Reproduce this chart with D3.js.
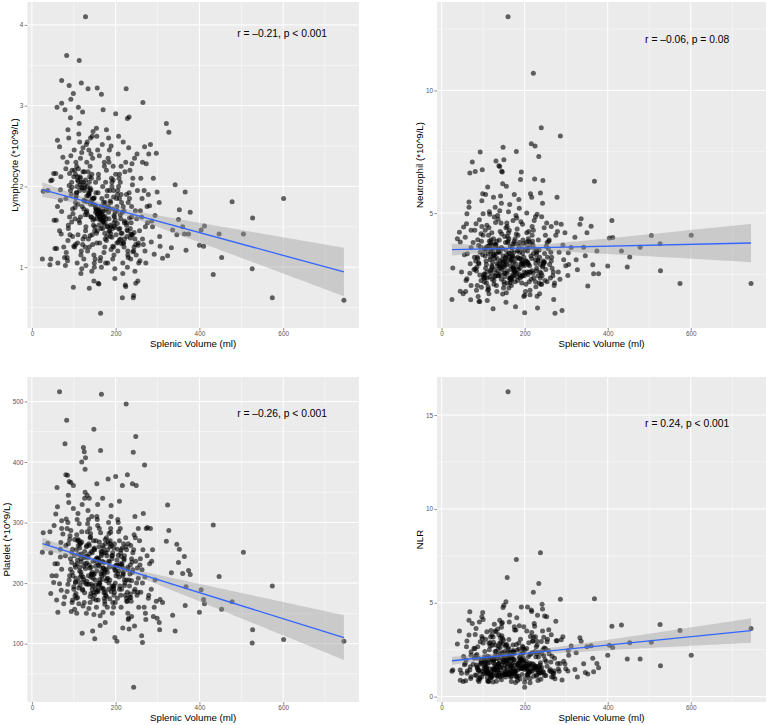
<!DOCTYPE html>
<html>
<head>
<meta charset="utf-8">
<script src="https://cdn.jsdelivr.net/npm/d3@7"></script>
<style>
  body { margin: 0; background: #fff; }
  text { font-family: "Liberation Sans", Arial, Helvetica, sans-serif; }
</style>
</head>
<body>
<svg id="chart" width="768" height="725"></svg>
<script>
// Splenic volume (ml), one entry per patient, shared by all four panels
const volume = [
  27, 25, 43, 45, 45, 52, 53, 55, 48, 38,
  61, 60, 71, 71, 79, 66, 74, 57, 69, 68,
  68, 61, 71, 58, 66, 70, 59, 76, 62, 78,
  83, 89, 99, 93, 86, 101, 81, 95, 90, 104,
  84, 97, 92, 100, 87, 103, 82, 96, 91, 99,
  85, 94, 88, 102, 80, 98, 93, 86, 104, 90,
  96, 81, 100, 87, 92, 84, 103, 89, 97, 95,
  113, 118, 111, 121, 128, 107, 125, 116, 109, 123,
  106, 119, 127, 112, 124, 108, 115, 129, 120, 110,
  117, 105, 126, 114, 122, 130, 108, 119, 112, 125,
  110, 124, 116, 106, 128, 113, 121, 109, 127, 118,
  122, 114, 107, 129, 111, 120, 126, 115, 105, 117,
  134, 148, 140, 152, 131, 145, 137, 150, 143, 155,
  138, 133, 154, 141, 147, 136, 151, 132, 144, 139,
  146, 142, 135, 153, 130, 149, 140, 144, 137, 152,
  131, 150, 139, 143, 155, 134, 147, 136, 141, 148,
  153, 137, 145, 132, 149, 142, 138, 154, 133, 146,
  160, 164, 156, 166, 170, 161, 158, 175, 168, 178,
  163, 172, 157, 176, 165, 180, 159, 169, 174, 162,
  167, 155, 179, 171, 160, 173, 164, 177, 158, 170,
  176, 162, 168, 157, 174, 166, 179, 161, 172, 165,
  159, 171, 163, 178, 156, 169, 175, 167, 180, 173,
  182, 192, 200, 186, 198, 190, 184, 195, 203, 188,
  196, 183, 205, 191, 187, 199, 194, 181, 202, 189,
  185, 197, 193, 204, 182, 200, 188, 195, 191, 199,
  201, 189, 186, 196, 203, 184, 192, 198, 187, 194,
  225, 216, 221, 224, 228, 232, 208, 214, 219, 211,
  223, 206, 229, 213, 217, 226, 210, 220, 207, 227,
  212, 218, 230, 209, 222, 215, 205, 228, 218, 224,
  220, 211, 226, 207, 216, 229, 213, 221, 209, 217,
  240, 234, 238, 243, 242, 248, 253, 245, 236, 250,
  231, 244, 252, 237, 249, 241, 233, 246, 255, 239,
  247, 235, 251, 232, 243, 238, 254, 240, 230, 246,
  265, 264, 269, 273, 258, 278, 262, 270, 275, 260,
  257, 268, 276, 264, 272, 259, 266, 279, 263, 271,
  286, 283, 297, 290, 281, 294, 288, 299, 285, 292,
  304, 305, 306, 312, 321, 324, 327, 333, 336, 342,
  346, 350, 352, 360, 364, 366, 368, 374, 378, 400,
  404, 410, 412, 433, 447, 453, 478, 505, 526, 527,
  574, 601, 745,
  142, 118, 165, 203, 178, 131, 226, 154, 189, 109,
  171, 136, 213, 158, 248, 122, 183, 197, 144, 235,
  127, 162, 208, 175, 139, 221, 168, 114, 193, 151,
  184, 149, 233, 128, 172, 206, 157, 241, 119, 196,
  163, 212, 135, 187, 104, 229, 146, 177, 254, 124,
  152, 199, 116, 238, 166, 141, 218, 183, 132, 204,
  174, 126, 191, 147, 227, 159, 111, 214, 169, 244,
  137, 181, 156, 102, 209, 173, 236, 148, 195, 162
];

const lymphocyte = [
  1.94, 1.10, 1.03, 1.10, 2.07, 2.16, 1.58, 1.23, 2.08, 1.95,
  2.57, 2.98, 3.31, 3.03, 2.95, 2.49, 2.36, 2.16, 2.12, 1.96,
  1.83, 1.75, 1.69, 1.58, 1.45, 1.41, 1.23, 1.25, 1.05, 1.12,
  3.62, 3.25, 3.15, 3.08, 2.70, 2.45, 1.85, 2.05, 1.62, 1.28,
  2.30, 1.72, 1.95, 2.12, 1.48, 1.60, 1.18, 2.20, 1.40, 0.75,
  1.08, 1.90, 2.60, 1.25, 1.02, 1.66, 2.38, 1.33, 1.80, 2.16,
  1.99, 2.22, 1.26, 1.52, 2.85, 1.12, 1.74, 2.01, 1.38, 1.56,
  3.56, 3.28, 2.98, 2.92, 4.10, 2.25, 1.95, 1.62, 1.30, 2.05,
  1.88, 2.42, 1.25, 2.65, 1.72, 1.05, 2.12, 1.50, 1.98, 1.40,
  1.15, 2.30, 1.82, 2.55, 1.35, 1.68, 2.00, 0.98, 1.58, 2.18,
  1.78, 1.10, 2.35, 1.92, 1.45, 2.78, 1.28, 2.08, 1.65, 1.20,
  2.48, 1.55, 1.92, 1.02, 2.22, 1.75, 1.38, 2.02, 1.86, 0.92,
  3.21, 0.83, 2.60, 2.05, 1.70, 2.35, 0.74, 1.50, 2.15, 1.30,
  1.95, 1.20, 2.72, 1.62, 1.85, 2.45, 1.10, 2.00, 1.40, 2.25,
  1.58, 2.10, 1.35, 1.92, 2.52, 1.05, 1.78, 2.62, 1.25, 1.68,
  2.30, 1.45, 1.98, 0.95, 1.60, 2.18, 1.52, 1.88, 2.40, 1.15,
  1.72, 2.05, 1.28, 2.55, 1.00, 1.82, 2.12, 1.42, 1.65, 2.68,
  0.79, 0.43, 3.22, 3.14, 2.95, 1.62, 0.80, 1.55, 1.65, 2.20,
  1.58, 1.70, 2.45, 1.05, 1.60, 1.95, 2.10, 1.48, 1.25, 1.68,
  1.64, 2.62, 1.38, 1.80, 1.52, 2.30, 1.12, 1.72, 1.92, 1.57,
  2.05, 1.30, 2.52, 1.66, 1.42, 1.00, 1.88, 2.38, 1.18, 1.75,
  2.15, 1.62, 1.08, 2.70, 1.45, 2.00, 1.35, 1.85, 1.50, 2.25,
  2.35, 1.72, 2.90, 1.45, 0.86, 2.10, 1.60, 1.95, 1.30, 1.80,
  1.55, 2.60, 1.20, 2.00, 1.38, 1.68, 2.25, 1.05, 1.85, 1.50,
  2.45, 1.62, 1.10, 1.90, 1.75, 2.15, 1.42, 1.25, 2.05, 1.58,
  1.40, 2.50, 1.95, 1.15, 1.70, 2.30, 1.48, 0.98, 1.82, 2.08,
  3.21, 0.62, 1.55, 0.76, 2.84, 2.86, 2.10, 1.80, 1.30, 1.65,
  0.78, 2.40, 1.20, 2.25, 1.05, 1.90, 1.48, 1.70, 2.00, 1.38,
  1.60, 2.55, 1.12, 1.85, 2.18, 1.42, 1.95, 1.00, 1.75, 2.30,
  1.25, 2.05, 1.52, 2.62, 1.68, 1.15, 1.90, 1.35, 2.15, 0.92,
  1.40, 2.20, 1.75, 0.65, 0.62, 0.80, 0.83, 2.35, 1.10, 1.60,
  2.48, 1.25, 1.95, 1.55, 1.15, 2.10, 1.85, 1.35, 1.05, 2.28,
  1.70, 1.48, 2.40, 1.92, 1.20, 1.62, 1.30, 2.02, 1.80, 0.95,
  3.04, 1.35, 2.49, 2.28, 1.08, 1.90, 1.62, 1.20, 1.75, 2.10,
  1.45, 1.95, 1.55, 2.30, 1.05, 1.70, 1.28, 2.40, 1.85, 1.50,
  1.57, 2.52, 2.41, 2.10, 1.76, 1.64, 1.50, 1.93, 1.31, 1.16,
  1.80, 1.38, 1.26, 1.11, 2.78, 1.14, 2.67, 1.24, 1.46, 2.02,
  1.40, 1.59, 1.71, 1.50, 1.41, 1.93, 1.21, 1.41, 1.68, 1.27,
  1.46, 1.26, 1.51, 0.91, 1.41, 1.12, 1.81, 1.41, 0.98, 1.61,
  0.62, 1.85, 0.59,
  1.62, 2.05, 1.48, 1.75, 1.33, 1.88, 1.55, 1.70, 1.22, 2.12,
  1.58, 1.92, 1.42, 1.66, 1.28, 2.18, 1.73, 1.51, 1.84, 1.36,
  2.02, 1.63, 1.47, 1.80, 1.39, 1.57, 1.69, 1.95, 1.26, 1.77,
  1.44, 1.86, 1.61, 2.08, 1.53, 1.31, 1.72, 1.19, 1.99, 1.64,
  1.67, 1.35, 1.90, 1.52, 2.15, 1.45, 1.78, 1.60, 1.27, 1.83,
  1.74, 1.49, 2.10, 1.40, 1.59, 1.96, 1.30, 1.68, 1.81, 1.54,
  1.63, 1.98, 1.37, 1.85, 1.46, 1.71, 2.06, 1.29, 1.56, 1.43,
  1.91, 1.50, 1.65, 2.20, 1.34, 1.76, 1.41, 1.60, 1.87, 1.69
];

const neutrophil = [
  2.76, 1.48, 4.22, 3.82, 1.81, 1.71, 4.43, 3.30, 2.60, 3.95,
  4.97, 4.57, 4.30, 3.60, 3.20, 5.45, 7.08, 4.02, 2.93, 6.63,
  2.55, 2.32, 2.05, 1.80, 5.24, 1.47, 2.25, 3.80, 3.34, 2.70,
  4.57, 3.68, 5.79, 7.49, 3.21, 2.42, 6.70, 4.16, 2.93, 3.48,
  2.64, 5.50, 1.40, 4.97, 3.91, 2.19, 3.05, 1.98, 4.73, 3.30,
  2.80, 3.62, 1.60, 2.52, 4.30, 6.77, 3.40, 2.05, 2.35, 1.40,
  3.85, 2.72, 4.10, 3.15, 2.48, 1.85, 3.55, 2.98, 4.45, 2.25,
  4.10, 3.20, 6.06, 2.85, 3.75, 3.60, 5.65, 2.40, 4.50, 3.00,
  5.76, 2.70, 4.84, 3.35, 1.10, 2.15, 3.85, 5.24, 2.55, 1.44,
  3.10, 4.30, 2.25, 1.71, 3.70, 4.62, 2.90, 3.45, 2.00, 3.95,
  2.35, 3.50, 4.95, 2.75, 3.15, 1.90, 4.20, 2.60, 3.30, 3.80,
  2.80, 4.40, 3.05, 2.45, 1.85, 3.55, 2.10, 5.05, 3.25, 2.65,
  2.95, 7.68, 6.90, 2.40, 7.12, 6.71, 3.50, 7.17, 4.60, 1.37,
  6.93, 3.85, 3.20, 4.25, 6.20, 2.65, 2.10, 3.35, 5.40, 2.80,
  6.67, 3.05, 4.90, 2.55, 3.70, 1.95, 5.10, 2.30, 3.40, 4.05,
  3.60, 2.20, 3.90, 2.75, 4.40, 3.15, 1.70, 4.75, 2.50, 3.25,
  2.85, 3.55, 4.15, 2.05, 3.00, 5.70, 2.45, 3.80, 1.80, 3.10,
  13.0, 3.10, 6.09, 2.85, 3.60, 4.20, 2.55, 5.76, 2.30, 1.18,
  3.35, 4.70, 2.90, 3.75, 2.15, 7.51, 4.05, 3.20, 2.45, 1.95,
  2.70, 3.50, 4.90, 2.40, 3.85, 3.00, 5.35, 2.20, 4.45, 3.25,
  2.60, 3.95, 2.05, 4.60, 3.40, 2.35, 3.15, 5.05, 2.80, 3.65,
  3.80, 2.50, 4.30, 2.95, 1.75, 3.45, 2.65, 3.05, 4.15, 2.75,
  2.40, 6.67, 0.94, 3.65, 3.20, 6.37, 2.80, 4.55, 2.10, 3.40,
  3.90, 2.25, 4.20, 2.95, 5.20, 2.60, 3.55, 4.80, 1.80, 3.15,
  2.70, 3.75, 2.15, 3.05, 4.35, 1.65, 2.50, 3.35, 4.65, 2.85,
  3.50, 2.35, 5.55, 3.00, 2.55, 4.10, 2.90, 1.60, 3.80, 2.45,
  7.73, 7.83, 10.7, 6.39, 3.30, 2.45, 2.90, 5.79, 3.85, 2.20,
  4.70, 3.60, 2.75, 1.67, 5.65, 3.10, 4.25, 2.55, 3.45, 2.00,
  2.85, 4.45, 1.61, 3.95, 2.35, 3.25, 5.00, 2.65, 4.10, 3.55,
  3.70, 2.60, 4.85, 3.00, 2.30, 3.40, 1.85, 4.30, 2.95, 3.15,
  8.48, 7.31, 5.82, 2.80, 2.45, 3.35, 4.60, 3.05, 1.71, 4.10,
  1.13, 6.33, 3.65, 2.60, 2.25, 4.85, 3.90, 2.95, 3.20, 2.10,
  4.40, 3.50, 2.70, 3.10, 5.40, 2.35, 3.80, 2.55, 4.95, 3.00,
  3.20, 4.45, 2.60, 0.92, 3.85, 5.65, 2.35, 1.48, 4.10, 2.90,
  3.55, 2.45, 4.60, 3.05, 2.15, 3.90, 2.75, 4.25, 3.40, 2.05,
  8.14, 3.40, 4.20, 1.03, 2.60, 3.10, 4.55, 2.85, 2.30, 3.70,
  2.46, 3.38, 2.90, 3.60, 4.02, 3.10, 2.69, 4.54, 4.77, 3.61,
  3.26, 4.20, 2.03, 4.46, 2.89, 2.53, 6.30, 3.45, 2.53, 2.84,
  3.98, 4.70, 4.00, 3.45, 2.80, 3.21, 3.61, 4.09, 3.75, 2.65,
  2.13, 4.10, 2.13,
  2.85, 3.40, 2.35, 3.05, 2.60, 3.70, 2.20, 3.15, 2.75, 3.55,
  3.25, 2.45, 3.80, 2.65, 3.00, 2.30, 3.45, 2.90, 3.60, 2.15,
  2.70, 3.20, 2.50, 3.85, 2.95, 3.35, 2.25, 3.65, 3.10, 2.55,
  3.50, 2.80, 3.05, 2.40, 3.75, 2.60, 3.30, 2.10, 3.90, 2.95,
  2.35, 3.60, 2.85, 3.15, 2.50, 3.45, 2.70, 3.95, 2.20, 3.25,
  3.05, 2.45, 3.70, 2.90, 2.30, 3.40, 2.65, 3.20, 2.55, 3.80,
  2.75, 3.30, 2.40, 3.55, 2.95, 2.15, 3.65, 2.60, 3.10, 2.85,
  3.45, 2.55, 3.00, 2.35, 3.85, 2.70, 3.20, 2.90, 2.45, 3.35
];

const platelet = [
  283, 251, 285, 183, 250, 201, 295, 232, 212, 266,
  326, 358, 303, 290, 430, 516, 281, 314, 267, 256,
  243, 232, 223, 212, 199, 188, 172, 166, 152, 177,
  469, 368, 361, 366, 300, 245, 379, 234, 212, 201,
  290, 256, 223, 190, 265, 179, 306, 168, 278, 323,
  378, 153, 333, 157, 245, 212, 287, 198, 226, 272,
  218, 262, 194, 345, 240, 186, 230, 205, 172, 251,
  298, 235, 262, 188, 407, 150, 417, 210, 176, 424,
  255, 400, 388, 166, 228, 305, 196, 244, 117, 272,
  218, 183, 340, 258, 202, 150, 232, 285, 192, 168,
  315, 206, 246, 175, 224, 270, 190, 238, 350, 213,
  162, 226, 280, 199, 248, 330, 184, 265, 208, 240,
  320, 454, 276, 197, 233, 121, 262, 108, 214, 364,
  290, 244, 185, 226, 270, 158, 205, 345, 250, 178,
  236, 198, 305, 172, 260, 215, 282, 190, 340, 228,
  203, 255, 168, 310, 220, 242, 184, 265, 210, 148,
  270, 230, 195, 285, 180, 252, 225, 160, 298, 208,
  200, 419, 242, 512, 225, 268, 186, 135, 206, 275,
  130, 234, 295, 180, 252, 218, 196, 340, 165, 228,
  212, 310, 245, 190, 260, 175, 283, 222, 240, 152,
  265, 198, 236, 330, 170, 248, 207, 290, 184, 215,
  230, 258, 146, 204, 305, 192, 272, 219, 160, 250,
  372, 245, 376, 205, 110, 262, 226, 190, 104, 284,
  180, 300, 215, 240, 270, 168, 195, 255, 230, 310,
  235, 185, 250, 175, 268, 220, 290, 160, 245, 200,
  212, 328, 174, 258, 238, 282, 150, 222, 265, 192,
  496, 361, 245, 275, 379, 124, 210, 190, 265, 232,
  180, 300, 222, 160, 126, 255, 195, 240, 285, 170,
  250, 215, 140, 270, 200, 232, 305, 185, 225, 260,
  238, 290, 175, 220, 258, 150, 244, 205, 335, 212,
  364, 215, 240, 28, 416, 442, 185, 129, 262, 200,
  142, 280, 225, 170, 361, 250, 195, 310, 160, 235,
  275, 230, 180, 205, 255, 145, 290, 218, 265, 190,
  255, 102, 395, 290, 230, 175, 113, 210, 245, 185,
  270, 160, 292, 200, 140, 240, 315, 180, 222, 150,
  236, 290, 170, 145, 232, 205, 255, 142, 190, 160,
  135, 123, 173, 168, 269, 329, 287, 217, 147, 121,
  264, 234, 256, 216, 244, 163, 194, 221, 214, 152,
  189, 173, 166, 296, 211, 157, 169, 251, 101, 123,
  195, 107, 104,
  215, 248, 192, 230, 178, 262, 205, 240, 186, 270,
  225, 198, 255, 172, 236, 210, 190, 265, 218, 182,
  244, 206, 228, 185, 275, 196, 252, 220, 168, 238,
  200, 258, 176, 232, 214, 246, 188, 222, 268, 195,
  235, 180, 212, 260, 202, 226, 174, 250, 208, 242,
  190, 228, 266, 204, 245, 183, 218, 236, 198, 256,
  222, 252, 194, 214, 170, 240, 203, 230, 262, 186,
  248, 208, 234, 272, 190, 218, 176, 256, 226, 200
];

const nlr = [
  1.42, 1.35, 3.49, 1.42, 0.87, 0.80, 2.14, 1.70, 1.24, 2.80,
  2.96, 2.66, 2.39, 2.21, 2.04, 3.28, 3.90, 1.77, 1.59, 4.52,
  1.42, 1.24, 1.06, 0.85, 4.07, 0.97, 1.95, 1.72, 1.36, 2.57,
  3.63, 2.05, 4.48, 2.92, 1.55, 1.20, 3.31, 1.85, 1.42, 2.40,
  1.12, 4.25, 0.95, 4.11, 2.66, 1.62, 2.18, 1.05, 3.98, 1.35,
  2.25, 1.72, 0.88, 1.98, 2.55, 3.10, 1.30, 1.58, 1.25, 0.80,
  1.95, 1.15, 2.85, 1.45, 1.02, 1.68, 2.12, 1.38, 3.20, 1.78,
  1.25, 1.02, 2.15, 1.05, 1.72, 1.60, 2.90, 1.48, 3.45, 1.46,
  3.06, 1.12, 3.85, 1.26, 0.78, 2.05, 1.82, 3.50, 1.30, 1.02,
  2.70, 1.87, 1.24, 0.82, 2.74, 2.75, 1.45, 3.52, 1.27, 1.81,
  1.32, 3.18, 2.10, 1.43, 2.17, 0.80, 3.28, 1.25, 2.00, 3.17,
  1.13, 2.84, 1.59, 2.40, 0.83, 2.03, 1.52, 2.50, 1.75, 2.88,
  1.40, 4.75, 4.07, 1.20, 3.45, 3.90, 1.75, 4.87, 2.10, 5.05,
  3.30, 2.05, 1.18, 2.62, 3.10, 1.08, 1.90, 1.65, 3.70, 1.25,
  3.95, 1.45, 3.60, 1.33, 1.48, 1.85, 2.85, 0.90, 2.70, 2.40,
  1.57, 1.52, 1.95, 2.90, 2.75, 1.44, 1.12, 2.52, 1.04, 2.80,
  1.65, 1.73, 3.24, 0.82, 3.00, 3.13, 1.15, 2.68, 1.09, 1.15,
  16.24, 2.35, 1.90, 1.05, 1.22, 2.60, 6.34, 3.72, 1.40, 0.75,
  2.12, 2.75, 1.18, 3.55, 1.34, 7.30, 1.93, 2.16, 1.96, 1.16,
  1.65, 1.34, 3.55, 1.33, 2.53, 1.30, 4.35, 1.28, 2.32, 2.07,
  1.27, 3.04, 0.81, 2.77, 2.39, 2.35, 1.68, 2.12, 2.37, 2.09,
  1.77, 1.54, 3.98, 1.09, 1.21, 1.73, 1.96, 1.65, 2.77, 1.22,
  1.03, 4.78, 0.50, 2.52, 3.72, 3.05, 1.75, 2.33, 1.62, 1.89,
  2.52, 0.86, 3.50, 1.48, 3.77, 1.55, 1.58, 4.20, 0.97, 2.10,
  1.10, 2.31, 1.95, 1.61, 2.48, 0.77, 1.76, 2.68, 2.27, 1.80,
  2.50, 0.94, 2.85, 2.61, 1.50, 1.78, 1.96, 1.63, 2.09, 1.18,
  2.40, 4.62, 5.56, 3.75, 1.16, 0.86, 1.38, 3.20, 2.95, 1.33,
  3.90, 1.50, 2.29, 0.74, 4.53, 1.63, 2.87, 1.50, 4.78, 1.45,
  1.78, 1.75, 1.44, 2.14, 1.08, 2.29, 2.56, 2.65, 2.34, 1.54,
  2.96, 1.27, 3.19, 1.15, 1.37, 2.96, 0.97, 3.18, 1.37, 3.42,
  2.93, 6.02, 7.67, 4.67, 4.92, 4.30, 4.25, 1.30, 1.55, 2.56,
  4.34, 2.50, 1.87, 1.68, 1.96, 2.31, 2.11, 2.18, 3.05, 0.92,
  2.59, 2.36, 1.12, 1.61, 3.50, 1.45, 2.92, 1.26, 2.75, 3.16,
  1.05, 3.30, 1.04, 0.95, 3.56, 2.97, 1.45, 1.23, 4.02, 1.38,
  2.45, 1.26, 2.97, 1.33, 2.05, 2.29, 2.15, 1.77, 1.84, 1.37,
  5.19, 1.35, 1.74, 0.89, 1.48, 1.89, 3.03, 1.48, 1.76, 3.19,
  1.37, 2.45, 2.20, 2.70, 1.45, 2.34, 1.05, 3.13, 2.95, 1.75,
  1.28, 2.66, 1.20, 2.71, 2.04, 1.33, 5.22, 1.77, 1.54, 2.21,
  2.74, 3.75, 2.62, 3.81, 2.00, 2.87, 2.00, 2.90, 3.84, 1.65,
  3.52, 2.21, 3.63,
  1.55, 1.20, 2.10, 1.75, 1.35, 2.40, 1.62, 1.05, 1.90, 1.48,
  1.82, 1.30, 2.25, 1.58, 1.12, 1.95, 1.42, 2.05, 1.68, 1.25,
  1.40, 1.88, 1.15, 2.30, 1.60, 1.72, 1.08, 1.98, 1.50, 2.15,
  1.65, 2.00, 1.32, 1.45, 2.45, 1.18, 1.78, 1.55, 1.02, 1.92,
  1.28, 1.70, 2.20, 1.52, 1.85, 1.10, 2.35, 1.38, 1.62, 1.95,
  2.08, 1.45, 1.22, 1.80, 1.58, 2.28, 1.35, 1.70, 1.15, 1.88,
  1.50, 1.95, 1.68, 1.25, 2.12, 1.40, 1.78, 1.60, 2.02, 1.32,
  1.75, 1.10, 1.92, 1.48, 1.65, 2.38, 1.28, 1.85, 1.55, 1.20
];

// Linear fits: [y at min volume, y at max volume,
// band half-width at min volume, band half-width at max volume]
const lymphocyteFit = [1.96, 0.94, 0.09, 0.30];
const neutrophilFit = [3.51, 3.78, 0.24, 0.78];
const plateletFit = [265, 110, 10.5, 37];
const nlrFit = [1.91, 3.52, 0.22, 0.65];

// Tick labels
const volumeTicks = [0, 200, 400, 600];
const lymphocyteTicks = [1, 2, 3, 4];
const neutrophilTicks = [5, 10];
const plateletTicks = [100, 200, 300, 400, 500];
const nlrTicks = [0, 5, 10, 15];

// Correlation labels: [text, y position in data units]
const lymphocyteLabel = ["r = \u20130.21, p < 0.001", 3.89];
const neutrophilLabel = ["r = \u20130.06, p = 0.08", 12.07];
const plateletLabel = ["r = \u20130.26, p < 0.001", 479.5];
const nlrLabel = ["r = 0.24, p < 0.001", 14.57];
const labelVolume = 490;

const panels = [
  { values: lymphocyte, fit: lymphocyteFit, ticks: lymphocyteTicks, label: lymphocyteLabel,
    title: "Lymphocyte (*10^9/L)", box: [27.3, 2, 359, 328], titleX: 14 },
  { values: neutrophil, fit: neutrophilFit, ticks: neutrophilTicks, label: neutrophilLabel,
    title: "Neutrophil (*10^9/L)", box: [437, 2, 766, 328], titleX: 419 },
  { values: platelet, fit: plateletFit, ticks: plateletTicks, label: plateletLabel,
    title: "Platelet (*10^9/L)", box: [27.3, 377, 359, 702], titleX: 6 },
  { values: nlr, fit: nlrFit, ticks: nlrTicks, label: nlrLabel,
    title: "NLR", box: [437, 377, 766, 702], titleX: 419 }
];

const svg = d3.select("#chart");

// ggplot-style 5% expansion
function expand(ext) {
  const pad = (ext[1] - ext[0]) * 0.05;
  return [ext[0] - pad, ext[1] + pad];
}

function minorOf(major, domain) {
  const step = major[1] - major[0];
  const out = [major[0] - step / 2];
  major.forEach(v => out.push(v + step / 2));
  return out.filter(v => v >= domain[0] && v <= domain[1]);
}

const volExtent = d3.extent(volume);
const volMean = d3.mean(volume);

function drawPanel(p) {
  const [left, top, right, bottom] = p.box;
  const g = svg.append("g");

  const x = d3.scaleLinear().domain(expand(volExtent)).range([left, right]);
  const y = d3.scaleLinear().domain(expand(d3.extent(p.values))).range([bottom, top]);

  // Panel background
  g.append("rect")
    .attr("x", left).attr("y", top)
    .attr("width", right - left).attr("height", bottom - top)
    .attr("fill", "#EBEBEB");

  // Minor grid
  minorOf(volumeTicks, x.domain()).forEach(v => {
    g.append("line").attr("x1", x(v)).attr("x2", x(v)).attr("y1", top).attr("y2", bottom)
      .attr("stroke", "#fff").attr("stroke-width", 0.5);
  });
  minorOf(p.ticks, y.domain()).forEach(v => {
    g.append("line").attr("x1", left).attr("x2", right).attr("y1", y(v)).attr("y2", y(v))
      .attr("stroke", "#fff").attr("stroke-width", 0.5);
  });

  // Major grid
  volumeTicks.forEach(v => {
    g.append("line").attr("x1", x(v)).attr("x2", x(v)).attr("y1", top).attr("y2", bottom)
      .attr("stroke", "#fff").attr("stroke-width", 1);
  });
  p.ticks.forEach(v => {
    g.append("line").attr("x1", left).attr("x2", right).attr("y1", y(v)).attr("y2", y(v))
      .attr("stroke", "#fff").attr("stroke-width", 1);
  });

  // Axes
  const xAxis = g.append("g")
    .attr("transform", "translate(0," + bottom + ")")
    .call(d3.axisBottom(x).tickValues(volumeTicks).tickFormat(d3.format("d"))
      .tickSize(2.7).tickPadding(1.2));
  const yAxis = g.append("g")
    .attr("transform", "translate(" + left + ",0)")
    .call(d3.axisLeft(y).tickValues(p.ticks).tickFormat(d3.format("d"))
      .tickSize(2.7).tickPadding(1.2));
  [xAxis, yAxis].forEach(a => {
    a.select(".domain").remove();
    a.selectAll(".tick line").attr("stroke", "#444").attr("stroke-width", 0.6);
    a.selectAll(".tick text")
      .attr("fill", "#555")
      .style("font-size", "6.4px")
      .style("font-family", "'Liberation Sans', Arial, sans-serif");
  });

  // Points
  g.append("g")
    .selectAll("circle")
    .data(volume.map((v, i) => [v, p.values[i]]))
    .join("circle")
    .attr("cx", d => x(d[0]))
    .attr("cy", d => y(d[1]))
    .attr("r", 2.5)
    .attr("fill", "#000")
    .attr("fill-opacity", 0.6);

  // Confidence band and fitted line
  const [y0, y1, h0, h1] = p.fit;
  const x0 = volExtent[0], x1 = volExtent[1];
  const d0 = (x0 - volMean) ** 2, d1 = (x1 - volMean) ** 2;
  const b2 = (h1 * h1 - h0 * h0) / (d1 - d0);
  const a2 = Math.max(0, h0 * h0 - b2 * d0);
  const fitAt = v => y0 + (y1 - y0) * (v - x0) / (x1 - x0);
  const halfWidth = v => Math.sqrt(a2 + b2 * (v - volMean) ** 2);
  const steps = d3.range(0, 81).map(i => x0 + (x1 - x0) * i / 80);

  g.append("path")
    .datum(steps)
    .attr("d", d3.area()
      .x(v => x(v))
      .y0(v => y(fitAt(v) - halfWidth(v)))
      .y1(v => y(fitAt(v) + halfWidth(v))))
    .attr("fill", "#999999")
    .attr("fill-opacity", 0.4);

  g.append("line")
    .attr("x1", x(x0)).attr("y1", y(y0))
    .attr("x2", x(x1)).attr("y2", y(y1))
    .attr("stroke", "#3366FF")
    .attr("stroke-width", 1.3);

  // Correlation label
  g.append("text")
    .attr("x", x(labelVolume))
    .attr("y", y(p.label[1]))
    .attr("dominant-baseline", "central")
    .style("font-size", "10.3px")
    .attr("fill", "#000")
    .text(p.label[0]);

  // Axis titles
  g.append("text")
    .attr("x", (left + right) / 2)
    .attr("y", bottom + 15.5)
    .attr("text-anchor", "middle")
    .attr("dominant-baseline", "central")
    .style("font-size", "9.7px")
    .text("Splenic Volume (ml)");

  g.append("text")
    .attr("transform", "translate(" + p.titleX + "," + (top + bottom) / 2 + ") rotate(-90)")
    .attr("text-anchor", "middle")
    .attr("dominant-baseline", "central")
    .style("font-size", "9.7px")
    .text(p.title);
}

panels.forEach(drawPanel);
</script>
</body>
</html>
